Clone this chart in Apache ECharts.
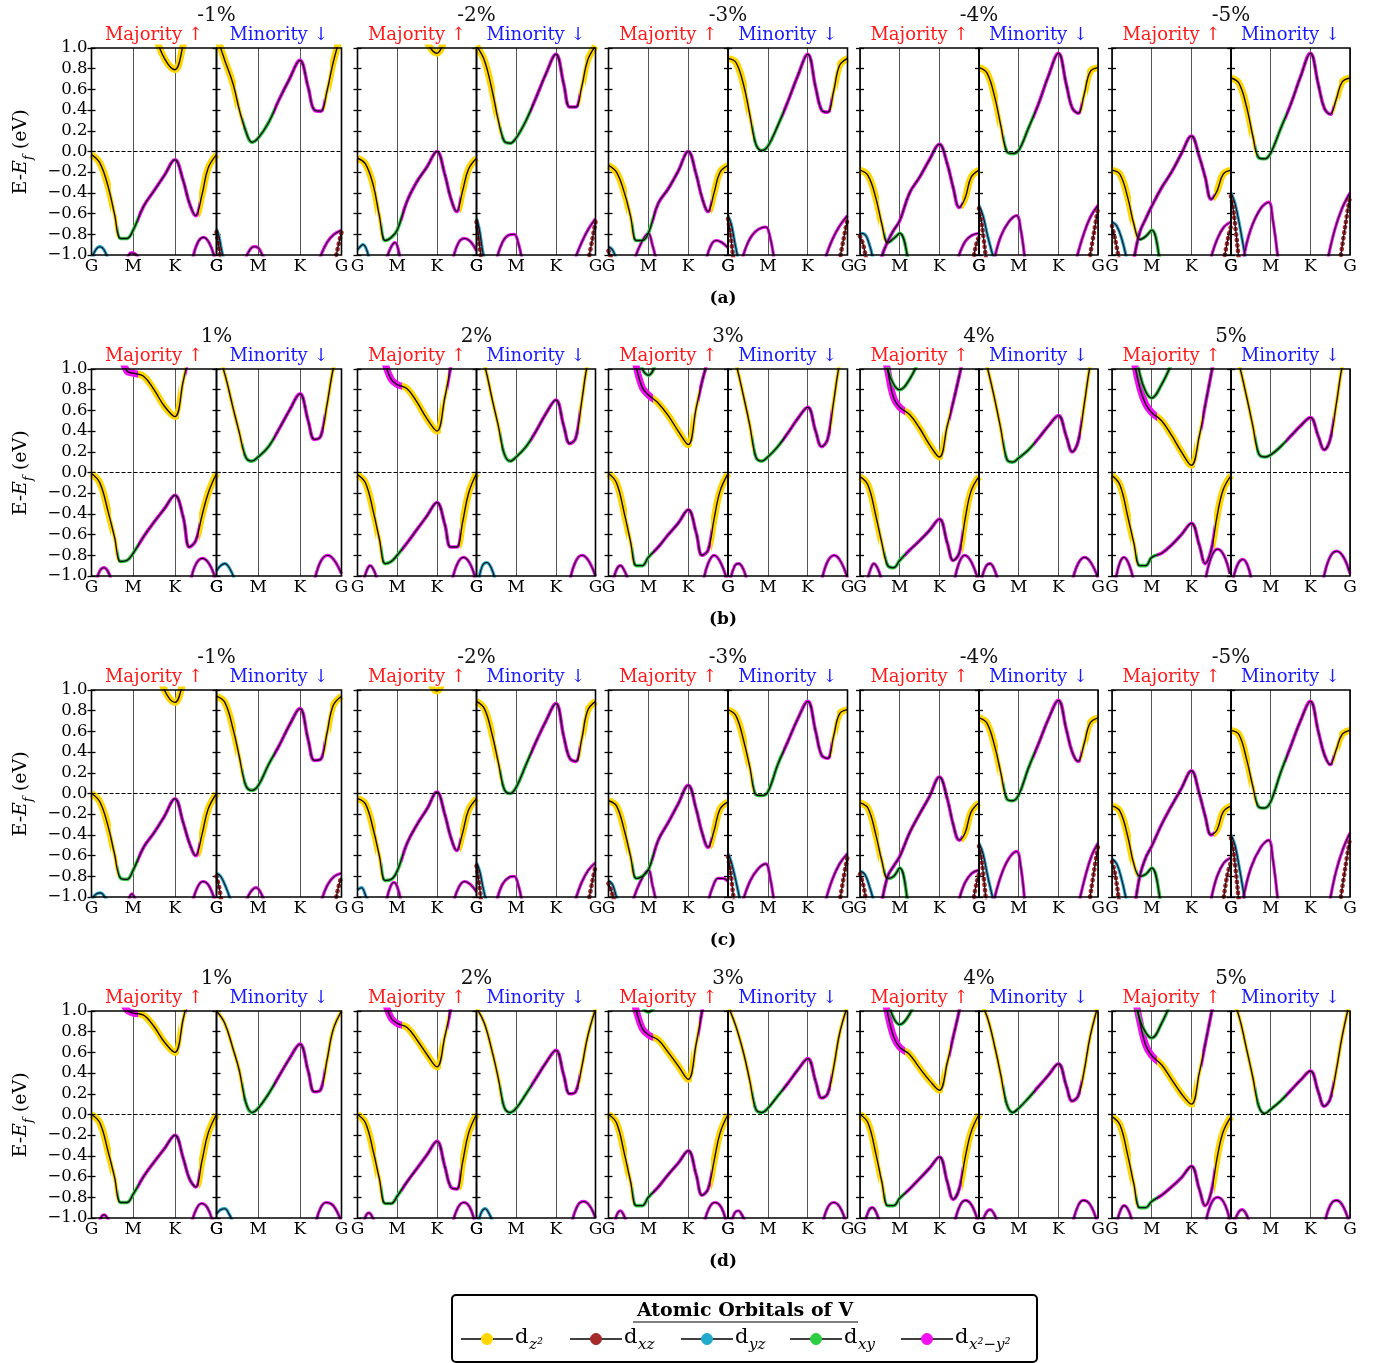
<!DOCTYPE html>
<html>
<head>
<meta charset="utf-8">
<script src="https://cdn.jsdelivr.net/npm/echarts@6/dist/echarts.min.js"></script>
<style>
  html, body { margin: 0; padding: 0; background: #fff; }
  #main { width: 1379px; height: 1363px; }
</style>
</head>
<body>
<div id="main"></div>
<script>
// k-path G-M-K-G, each segment drawn with equal length (G=0, M=1, K=2, G=3)
var kpts = [0, 0.2, 0.4, 0.55, 0.7, 0.85, 1, 1.25, 1.5, 1.75, 2, 2.2, 2.35, 2.5, 2.65, 2.8, 3];
var kLabels = ['G', 'M', 'K', 'G'];
var strainNeg = ['-1%', '-2%', '-3%', '-4%', '-5%'];
var strainPos = ['1%', '2%', '3%', '4%', '5%'];
var rowTags = ['(a)', '(b)', '(c)', '(d)'];

// orbital character per k-point (z=dz2, c=dxz, y=dyz, x=dxy, m=dx2-y2; upper case = large weight)
var VB   = 'ZZZzxxxmmmmmmmZZZ';
var VBA  = 'ZZZzxxxxmmmmmmmmm';
var VBB  = 'mmmmmmmmmmmmmmZZZ';
var CBK  = 'ZZZZZZZZZZZZZZZZZ';
var CBT  = 'mmmMMMMZZZZzmmmmm';
var CB2  = 'xxxxxxxxxxxxxxxxx';
var CBD  = 'ZZZzxxxxmmmmmmzZZ';
var CBDT = 'zzzzxxxxmmmmmmzzz';

// ---- row (a): compressive ----
var a1_up = [[VB, [-0.03,-0.11,-0.34,-0.6,-0.84,-0.84,-0.76,-0.53,-0.38,-0.23,-0.08,-0.28,-0.5,-0.62,-0.42,-0.16,-0.03]],
             [CBK, [1.6,1.6,1.6,1.6,1.6,1.6,1.6,1.45,1.15,0.9,0.79,1.03,1.3,1.6,1.6,1.6,1.6]]];
var a1_dn = [[CBD, [1.12,0.88,0.65,0.4,0.2,0.09,0.13,0.28,0.5,0.7,0.88,0.62,0.4,0.39,0.58,0.86,1.15]]];
var a2_up = [[VB, [-0.065,-0.12,-0.33,-0.62,-0.86,-0.83,-0.76,-0.48,-0.29,-0.15,0.0,-0.22,-0.45,-0.58,-0.38,-0.17,-0.065]],
             [CBK, [1.6,1.6,1.6,1.6,1.6,1.6,1.6,1.6,1.4,1.06,0.95,1.1,1.4,1.6,1.6,1.6,1.6]]];
var a2_dn = [[CBD, [1.02,0.88,0.58,0.3,0.1,0.08,0.13,0.3,0.52,0.75,0.94,0.65,0.43,0.43,0.62,0.88,1.02]]];
var a3_up = [[VB, [-0.135,-0.2,-0.4,-0.62,-0.86,-0.86,-0.79,-0.5,-0.36,-0.19,0.0,-0.22,-0.45,-0.58,-0.4,-0.2,-0.135]]];
var a3_dn = [[CBD, [0.9,0.86,0.63,0.35,0.07,0.01,0.05,0.25,0.48,0.73,0.94,0.62,0.4,0.38,0.58,0.83,0.9]]];
var a4_up = [[VBA, [-0.18,-0.23,-0.45,-0.7,-0.88,-0.84,-0.79,-1.12,-1.6,-1.6,-1.6,-1.6,-1.6,-1.6,-1.6,-1.6,-1.6]],
             [VBB, [-1.6,-1.6,-1.4,-1.02,-0.87,-0.76,-0.67,-0.4,-0.25,-0.08,0.07,-0.12,-0.35,-0.54,-0.45,-0.25,-0.18]]];
var a4_dn = [[CBD, [0.81,0.76,0.52,0.25,0.0,-0.02,0.01,0.23,0.46,0.73,0.95,0.65,0.42,0.37,0.55,0.77,0.81]]];
var a5_up = [[VBA, [-0.18,-0.22,-0.45,-0.7,-0.85,-0.82,-0.76,-1.15,-1.6,-1.6,-1.6,-1.6,-1.6,-1.6,-1.6,-1.6,-1.6]],
             [VBB, [-1.6,-1.6,-1.5,-1.05,-0.78,-0.65,-0.53,-0.35,-0.2,-0.02,0.15,-0.05,-0.25,-0.46,-0.38,-0.22,-0.18]]];
var a5_dn = [[CBD, [0.71,0.66,0.42,0.15,-0.06,-0.07,-0.015,0.22,0.45,0.72,0.95,0.65,0.42,0.36,0.5,0.67,0.71]]];

// lower bands: [orbital, [[k, E], ...]]
var a1_upLow = [['y', [[0,-1.04],[0.1,-0.95],[0.2,-0.92],[0.3,-0.95],[0.4,-1.05]]],
                ['m', [[0.85,-1.05],[0.95,-0.98],[1.05,-0.99],[1.15,-1.05]]],
                ['m', [[2.42,-1.05],[2.55,-0.88],[2.69,-0.83],[2.82,-0.88],[2.95,-1.02]]]];
var a1_dnLow = [['y', [[0,-0.75],[0.06,-0.82],[0.12,-0.95],[0.18,-1.05]]],
                ['c', [[0,-0.78],[0.05,-0.9],[0.1,-1.05]]],
                ['m', [[0.68,-1.05],[0.8,-0.95],[0.9,-0.92],[1.0,-0.93],[1.1,-1.0],[1.2,-1.08]]],
                ['m', [[2.48,-1.03],[2.65,-0.88],[2.82,-0.8],[3,-0.76]]],
                ['c', [[2.85,-1.05],[2.93,-0.9],[3,-0.78]]]];
var a2_upLow = [['y', [[0,-0.95],[0.14,-0.9],[0.3,-1.05]]],
                ['m', [[0.72,-1.05],[0.85,-0.92],[0.95,-0.88],[1.03,-0.95],[1.1,-1.1]]],
                ['m', [[2.4,-1.05],[2.55,-0.88],[2.7,-0.84],[2.85,-0.87],[3,-0.96]]]];
var a2_dnLow = [['y', [[0,-0.65],[0.07,-0.75],[0.15,-0.95],[0.2,-1.05]]],
                ['c', [[0,-0.68],[0.06,-0.85],[0.12,-1.05]]],
                ['m', [[0.5,-1.05],[0.65,-0.88],[0.8,-0.81],[0.95,-0.8],[1.05,-0.88],[1.15,-1.05]]],
                ['m', [[2.5,-1.02],[2.65,-0.88],[2.82,-0.75],[3,-0.65]]],
                ['c', [[2.82,-1.05],[2.92,-0.85],[3,-0.68]]]];
var a3_upLow = [['y', [[0,-0.92],[0.1,-0.95],[0.2,-1.05]]],
                ['c', [[0,-0.96],[0.12,-1.08]]],
                ['m', [[0.65,-1.05],[0.8,-0.9],[1,-0.79],[1.1,-0.9],[1.2,-1.05]]],
                ['m', [[2.45,-1.05],[2.58,-0.9],[2.71,-0.86],[2.85,-0.88],[3,-0.93]]]];
var a3_dnLow = [['y', [[0,-0.62],[0.08,-0.7],[0.17,-0.88],[0.25,-1.03]]],
                ['c', [[0,-0.65],[0.06,-0.8],[0.14,-1.05]]],
                ['m', [[0.35,-1.05],[0.5,-0.88],[0.7,-0.77],[0.95,-0.73],[1.05,-0.82],[1.15,-1.02]]],
                ['m', [[2.45,-1.02],[2.62,-0.85],[2.8,-0.72],[3,-0.62]]],
                ['c', [[2.8,-1.05],[2.9,-0.85],[3,-0.65]]]];
var a4_upLow = [['y', [[0,-0.79],[0.12,-0.8],[0.22,-0.88],[0.32,-1.02]]],
                ['c', [[0,-0.82],[0.08,-0.9],[0.16,-1.05]]],
                ['m', [[2.48,-1.02],[2.65,-0.87],[2.82,-0.81],[3,-0.79]]],
                ['c', [[2.85,-1.05],[2.93,-0.9],[3,-0.82]]]];
var a4_dnLow = [['y', [[0,-0.52],[0.1,-0.62],[0.22,-0.82],[0.36,-1.02]]],
                ['c', [[0,-0.55],[0.07,-0.7],[0.18,-1.05]]],
                ['m', [[0.4,-1.02],[0.55,-0.82],[0.75,-0.68],[0.95,-0.62],[1.05,-0.75],[1.15,-1.02]]],
                ['m', [[2.47,-1.02],[2.62,-0.82],[2.8,-0.64],[3,-0.52]]],
                ['c', [[2.78,-1.05],[2.9,-0.78],[3,-0.55]]]];
var a5_upLow = [['y', [[0,-0.68],[0.12,-0.72],[0.25,-0.85],[0.36,-1.02]]],
                ['c', [[0,-0.72],[0.08,-0.85],[0.18,-1.05]]],
                ['m', [[2.5,-1.02],[2.65,-0.85],[2.82,-0.73],[3,-0.68]]],
                ['c', [[2.82,-1.05],[2.92,-0.85],[3,-0.72]]]];
var a5_dnLow = [['y', [[0,-0.4],[0.1,-0.5],[0.22,-0.72],[0.36,-1.02]]],
                ['c', [[0,-0.43],[0.07,-0.6],[0.2,-1.05]]],
                ['m', [[0.32,-1.02],[0.5,-0.75],[0.75,-0.55],[0.95,-0.49],[1.05,-0.65],[1.18,-1.02]]],
                ['m', [[2.45,-1.02],[2.62,-0.75],[2.8,-0.55],[3,-0.4]]],
                ['c', [[2.75,-1.05],[2.88,-0.72],[3,-0.43]]]];

// ---- row (b): tensile ----
var b1_up = [[VB, [-0.01,-0.1,-0.38,-0.62,-0.86,-0.85,-0.78,-0.62,-0.48,-0.35,-0.22,-0.43,-0.72,-0.66,-0.42,-0.2,-0.01]],
             [CBT, [1.6,1.6,1.6,1.4,1.15,0.98,0.96,0.93,0.8,0.64,0.54,0.88,1.15,1.4,1.6,1.6,1.6]]];
var b1_dn = [[CBDT, [1.2,0.95,0.62,0.38,0.15,0.11,0.15,0.25,0.42,0.6,0.76,0.5,0.32,0.35,0.65,1.0,1.3]]];
var b2_up = [[VB, [-0.02,-0.1,-0.38,-0.64,-0.88,-0.86,-0.8,-0.68,-0.55,-0.42,-0.29,-0.5,-0.72,-0.72,-0.48,-0.2,-0.01]],
             [CBT, [1.6,1.6,1.6,1.3,1.05,0.9,0.85,0.81,0.68,0.52,0.4,0.72,1.02,1.3,1.6,1.6,1.6]]];
var b2_dn = [[CBDT, [1.25,1.04,0.7,0.45,0.18,0.11,0.15,0.25,0.4,0.57,0.7,0.45,0.28,0.33,0.68,1.05,1.3]]];
var b3_up = [[VB, [-0.01,-0.1,-0.4,-0.66,-0.9,-0.9,-0.82,-0.72,-0.6,-0.49,-0.36,-0.58,-0.8,-0.75,-0.45,-0.18,-0.01]],
             [CBT, [1.6,1.6,1.6,1.4,1.02,0.82,0.75,0.67,0.55,0.4,0.27,0.62,0.88,1.1,1.4,1.6,1.6]],
             [CB2, [1.6,1.6,1.6,1.5,1.25,1.0,0.94,1.12,1.4,1.6,1.6,1.6,1.6,1.6,1.6,1.6,1.6]]];
var b3_dn = [[CBDT, [1.3,1.05,0.72,0.45,0.15,0.11,0.15,0.25,0.38,0.52,0.63,0.4,0.25,0.32,0.68,1.05,1.35]]];
var b4_up = [[VB, [-0.04,-0.12,-0.42,-0.68,-0.9,-0.92,-0.85,-0.75,-0.66,-0.56,-0.45,-0.68,-0.85,-0.78,-0.45,-0.18,-0.04]],
             [CBT, [1.6,1.6,1.6,1.3,0.98,0.72,0.63,0.56,0.43,0.27,0.15,0.45,0.68,0.93,1.2,1.5,1.6]],
             [CB2, [1.6,1.6,1.6,1.4,1.0,0.85,0.8,0.9,1.1,1.4,1.6,1.6,1.6,1.6,1.6,1.6,1.6]]];
var b4_dn = [[CBDT, [1.3,1.03,0.7,0.42,0.13,0.1,0.14,0.22,0.33,0.45,0.55,0.35,0.2,0.3,0.65,1.03,1.35]]];
var b5_up = [[VB, [-0.03,-0.12,-0.43,-0.68,-0.9,-0.9,-0.82,-0.78,-0.7,-0.6,-0.49,-0.7,-0.88,-0.75,-0.42,-0.17,-0.03]],
             [CBT, [1.6,1.6,1.6,1.1,0.82,0.66,0.58,0.5,0.36,0.2,0.07,0.35,0.65,0.95,1.25,1.5,1.6]],
             [CB2, [1.6,1.6,1.6,1.3,0.95,0.78,0.72,0.85,1.05,1.3,1.6,1.6,1.6,1.6,1.6,1.6,1.6]]];
var b5_dn = [[CBDT, [1.3,1.05,0.72,0.45,0.18,0.15,0.17,0.25,0.35,0.45,0.53,0.35,0.22,0.32,0.65,1.02,1.35]]];

var b1_upLow = [['m', [[0.12,-1.05],[0.2,-0.95],[0.3,-0.92],[0.4,-0.96],[0.48,-1.05]]],
                ['m', [[2.38,-1.05],[2.5,-0.89],[2.66,-0.83],[2.82,-0.88],[2.97,-1.02]]]];
var b1_dnLow = [['y', [[0,-0.95],[0.1,-0.9],[0.2,-0.88],[0.32,-0.93],[0.45,-1.05]]],
                ['m', [[2.35,-1.05],[2.5,-0.86],[2.67,-0.8],[2.83,-0.85],[3,-0.98]]]];
var b2_upLow = [['m', [[0.15,-1.05],[0.24,-0.94],[0.32,-0.9],[0.42,-0.95],[0.5,-1.05]]],
                ['m', [[2.38,-1.05],[2.52,-0.88],[2.67,-0.82],[2.82,-0.87],[2.97,-1.02]]]];
var b2_dnLow = [['y', [[0.05,-1.05],[0.15,-0.9],[0.26,-0.87],[0.37,-0.92],[0.48,-1.05]]],
                ['m', [[2.35,-1.05],[2.5,-0.86],[2.66,-0.8],[2.82,-0.85],[3,-1.0]]]];
var b3_upLow = [['m', [[0.12,-1.05],[0.2,-0.94],[0.3,-0.9],[0.4,-0.95],[0.5,-1.05]]],
                ['m', [[2.38,-1.05],[2.5,-0.88],[2.65,-0.8],[2.8,-0.86],[2.97,-1.03]]]];
var b3_dnLow = [['m', [[0.05,-1.05],[0.17,-0.9],[0.27,-0.88],[0.38,-0.93],[0.48,-1.05]]],
                ['m', [[2.35,-1.05],[2.5,-0.86],[2.67,-0.8],[2.83,-0.86],[3,-1.02]]]];
var b4_upLow = [['m', [[0.18,-1.05],[0.27,-0.93],[0.35,-0.88],[0.45,-0.93],[0.55,-1.05]]],
                ['m', [[2.38,-1.05],[2.5,-0.87],[2.64,-0.8],[2.8,-0.86],[2.97,-1.03]]]];
var b4_dnLow = [['m', [[0.05,-1.05],[0.17,-0.91],[0.28,-0.88],[0.38,-0.93],[0.48,-1.05]]],
                ['m', [[2.35,-1.05],[2.5,-0.88],[2.66,-0.82],[2.82,-0.87],[3,-1.02]]]];
var b5_upLow = [['m', [[0.1,-1.02],[0.2,-0.87],[0.3,-0.82],[0.42,-0.88],[0.55,-1.05]]],
                ['m', [[2.35,-1.05],[2.5,-0.82],[2.66,-0.74],[2.82,-0.8],[2.97,-0.98]]]];
var b5_dnLow = [['m', [[0.05,-1.03],[0.18,-0.88],[0.3,-0.84],[0.42,-0.9],[0.52,-1.05]]],
                ['m', [[2.32,-1.05],[2.48,-0.83],[2.66,-0.76],[2.84,-0.82],[3,-0.98]]]];

// ---- row (c): compressive ----
var c1_up = [[VB, [0.0,-0.08,-0.32,-0.58,-0.82,-0.83,-0.74,-0.52,-0.38,-0.22,-0.05,-0.28,-0.48,-0.6,-0.4,-0.15,0.0]],
             [CBK, [1.6,1.6,1.6,1.6,1.6,1.6,1.6,1.6,1.3,1.0,0.88,1.08,1.35,1.6,1.6,1.6,1.6]]];
var c1_dn = [[CBD, [0.94,0.88,0.62,0.35,0.08,0.03,0.075,0.28,0.46,0.66,0.82,0.52,0.32,0.33,0.58,0.85,0.94]]];
var c2_up = [[VB, [-0.05,-0.1,-0.35,-0.6,-0.84,-0.83,-0.75,-0.48,-0.3,-0.15,0.015,-0.2,-0.42,-0.55,-0.38,-0.16,-0.05]],
             [CBK, [1.6,1.6,1.6,1.6,1.6,1.6,1.6,1.6,1.5,1.15,0.99,1.15,1.5,1.6,1.6,1.6,1.6]]];
var c2_dn = [[CBD, [0.89,0.82,0.56,0.3,0.04,0.0,0.06,0.28,0.5,0.7,0.87,0.55,0.34,0.31,0.52,0.8,0.89]]];
var c3_up = [[VB, [-0.07,-0.12,-0.36,-0.6,-0.82,-0.8,-0.74,-0.45,-0.28,-0.1,0.08,-0.15,-0.38,-0.52,-0.36,-0.15,-0.08]]];
var c3_dn = [[CBD, [0.81,0.75,0.5,0.25,-0.01,-0.02,0.015,0.28,0.5,0.72,0.89,0.6,0.37,0.34,0.55,0.77,0.81]]];
var c4_up = [[VBA, [-0.09,-0.14,-0.4,-0.65,-0.82,-0.8,-0.72,-1.15,-1.6,-1.6,-1.6,-1.6,-1.6,-1.6,-1.6,-1.6,-1.6]],
             [VBB, [-1.6,-1.6,-1.4,-1.05,-0.8,-0.7,-0.61,-0.38,-0.2,-0.03,0.16,-0.05,-0.3,-0.45,-0.38,-0.18,-0.09]]];
var c4_dn = [[CBD, [0.73,0.68,0.45,0.2,-0.05,-0.07,-0.015,0.25,0.48,0.72,0.9,0.62,0.4,0.31,0.48,0.68,0.73]]];
var c5_up = [[VBA, [-0.12,-0.17,-0.42,-0.68,-0.8,-0.78,-0.72,-1.1,-1.6,-1.6,-1.6,-1.6,-1.6,-1.6,-1.6,-1.6,-1.6]],
             [VBB, [-1.6,-1.6,-1.5,-1.15,-0.8,-0.62,-0.51,-0.3,-0.12,0.05,0.22,0.0,-0.22,-0.4,-0.35,-0.18,-0.12]]];
var c5_dn = [[CBD, [0.61,0.57,0.32,0.07,-0.13,-0.14,-0.08,0.2,0.45,0.7,0.89,0.6,0.38,0.28,0.42,0.57,0.61]]];

var c1_upLow = [['y', [[0,-1.02],[0.12,-0.97],[0.22,-0.96],[0.32,-1.0],[0.4,-1.05]]],
                ['m', [[0.88,-1.04],[0.97,-0.97],[1.06,-1.04]]],
                ['m', [[2.42,-1.05],[2.55,-0.9],[2.67,-0.85],[2.8,-0.88],[2.95,-1.02]]]];
var c1_dnLow = [['y', [[0,-0.77],[0.1,-0.8],[0.22,-0.9],[0.34,-1.03]]],
                ['c', [[0,-0.8],[0.06,-0.9],[0.12,-1.05]]],
                ['m', [[0.7,-1.05],[0.82,-0.95],[0.95,-0.91],[1.05,-0.95],[1.15,-1.05]]],
                ['m', [[2.53,-1.02],[2.67,-0.88],[2.83,-0.8],[3,-0.77]]],
                ['c', [[2.85,-1.05],[2.93,-0.9],[3,-0.8]]]];
var c2_upLow = [['y', [[0,-0.93],[0.1,-0.91],[0.22,-1.0],[0.3,-1.05]]],
                ['m', [[0.72,-1.05],[0.83,-0.9],[0.92,-0.86],[1.0,-0.9],[1.1,-1.05]]],
                ['m', [[2.42,-1.05],[2.56,-0.9],[2.7,-0.85],[2.85,-0.88],[3,-0.95]]]];
var c2_dnLow = [['y', [[0,-0.67],[0.08,-0.75],[0.17,-0.92],[0.24,-1.03]]],
                ['c', [[0,-0.7],[0.06,-0.85],[0.12,-1.05]]],
                ['m', [[0.5,-1.05],[0.65,-0.88],[0.82,-0.81],[0.95,-0.8],[1.05,-0.88],[1.15,-1.05]]],
                ['m', [[2.5,-1.02],[2.65,-0.86],[2.82,-0.74],[3,-0.67]]],
                ['c', [[2.82,-1.05],[2.92,-0.85],[3,-0.7]]]];
var c3_upLow = [['y', [[0,-0.84],[0.1,-0.88],[0.2,-1.0],[0.28,-1.08]]],
                ['c', [[0,-0.87],[0.08,-0.95],[0.15,-1.05]]],
                ['m', [[0.6,-1.05],[0.8,-0.85],[1,-0.74],[1.1,-0.88],[1.2,-1.05]]],
                ['m', [[2.5,-1.05],[2.62,-0.9],[2.75,-0.82],[2.88,-0.82],[3,-0.85]]]];
var c3_dnLow = [['y', [[0,-0.58],[0.08,-0.66],[0.2,-0.85],[0.3,-1.03]]],
                ['c', [[0,-0.61],[0.06,-0.75],[0.15,-1.05]]],
                ['m', [[0.38,-1.03],[0.55,-0.85],[0.75,-0.73],[0.95,-0.68],[1.05,-0.8],[1.15,-1.03]]],
                ['m', [[2.46,-1.02],[2.62,-0.83],[2.8,-0.68],[3,-0.58]]],
                ['c', [[2.8,-1.05],[2.9,-0.82],[3,-0.61]]]];
var c4_upLow = [['y', [[0,-0.75],[0.12,-0.78],[0.24,-0.9],[0.34,-1.03]]],
                ['c', [[0,-0.78],[0.08,-0.88],[0.16,-1.05]]],
                ['m', [[2.5,-1.02],[2.65,-0.86],[2.82,-0.77],[3,-0.74]]],
                ['c', [[2.85,-1.05],[2.93,-0.88],[3,-0.78]]]];
var c4_dnLow = [['y', [[0,-0.48],[0.1,-0.58],[0.22,-0.8],[0.36,-1.03]]],
                ['c', [[0,-0.51],[0.07,-0.65],[0.18,-1.05]]],
                ['m', [[0.38,-1.03],[0.55,-0.8],[0.75,-0.63],[0.95,-0.56],[1.05,-0.7],[1.15,-1.03]]],
                ['m', [[2.54,-1.02],[2.68,-0.8],[2.84,-0.6],[3,-0.48]]],
                ['c', [[2.78,-1.05],[2.9,-0.75],[3,-0.51]]]];
var c5_upLow = [['y', [[0,-0.63],[0.12,-0.68],[0.25,-0.84],[0.36,-1.03]]],
                ['c', [[0,-0.66],[0.08,-0.78],[0.18,-1.05]]],
                ['m', [[2.5,-1.02],[2.65,-0.8],[2.82,-0.67],[3,-0.62]]],
                ['c', [[2.8,-1.05],[2.9,-0.8],[3,-0.66]]]];
var c5_dnLow = [['y', [[0,-0.4],[0.1,-0.5],[0.22,-0.74],[0.35,-1.03]]],
                ['c', [[0,-0.43],[0.07,-0.58],[0.2,-1.05]]],
                ['m', [[0.3,-1.03],[0.5,-0.72],[0.75,-0.52],[0.95,-0.45],[1.05,-0.62],[1.18,-1.03]]],
                ['m', [[2.5,-1.02],[2.65,-0.75],[2.82,-0.54],[3,-0.38]]],
                ['c', [[2.75,-1.05],[2.88,-0.72],[3,-0.43]]]];

// ---- row (d): tensile ----
var d1_up = [[VB, [0.0,-0.08,-0.36,-0.6,-0.85,-0.85,-0.77,-0.6,-0.46,-0.33,-0.2,-0.42,-0.62,-0.7,-0.45,-0.18,0.0]],
             [CBT, [1.6,1.6,1.6,1.4,1.15,1.01,0.98,0.96,0.85,0.7,0.6,0.92,1.2,1.5,1.6,1.6,1.6]]];
var d1_dn = [[CBDT, [1.0,0.88,0.63,0.42,0.12,0.02,0.06,0.2,0.37,0.54,0.68,0.42,0.22,0.24,0.52,0.82,1.0]]];
var d2_up = [[VB, [0.0,-0.08,-0.36,-0.62,-0.86,-0.86,-0.79,-0.65,-0.52,-0.39,-0.26,-0.5,-0.7,-0.72,-0.46,-0.18,0.0]],
             [CBT, [1.6,1.6,1.6,1.3,1.08,0.93,0.88,0.84,0.72,0.58,0.46,0.75,1.02,1.3,1.6,1.6,1.6]]];
var d2_dn = [[CBDT, [1.03,0.88,0.6,0.35,0.07,0.02,0.06,0.2,0.35,0.5,0.62,0.38,0.2,0.22,0.45,0.75,1.02]]];
var d3_up = [[VB, [0.0,-0.08,-0.38,-0.64,-0.88,-0.88,-0.8,-0.7,-0.58,-0.47,-0.35,-0.58,-0.78,-0.72,-0.45,-0.18,0.0]],
             [CBT, [1.6,1.6,1.6,1.25,1.0,0.83,0.77,0.72,0.6,0.47,0.34,0.68,1.0,1.3,1.6,1.6,1.6]],
             [CB2, [1.6,1.6,1.6,1.6,1.3,1.05,0.99,1.1,1.4,1.6,1.6,1.6,1.6,1.6,1.6,1.6,1.6]]];
var d3_dn = [[CBDT, [1.05,0.85,0.58,0.32,0.05,0.02,0.06,0.18,0.3,0.43,0.54,0.32,0.16,0.2,0.45,0.78,1.05]]];
var d4_up = [[VB, [0.0,-0.08,-0.38,-0.65,-0.88,-0.88,-0.81,-0.72,-0.62,-0.52,-0.41,-0.65,-0.82,-0.72,-0.42,-0.17,0.0]],
             [CBT, [1.6,1.6,1.6,1.3,0.97,0.75,0.65,0.58,0.45,0.33,0.235,0.5,0.75,1.0,1.3,1.6,1.6]],
             [CB2, [1.6,1.6,1.6,1.4,1.1,0.93,0.87,0.97,1.2,1.5,1.6,1.6,1.6,1.6,1.6,1.6,1.6]]];
var d4_dn = [[CBDT, [1.1,0.95,0.65,0.38,0.1,0.02,0.06,0.16,0.27,0.38,0.49,0.28,0.13,0.18,0.42,0.75,1.05]]];
var d5_up = [[VB, [-0.02,-0.1,-0.4,-0.67,-0.9,-0.9,-0.84,-0.78,-0.7,-0.61,-0.5,-0.72,-0.88,-0.75,-0.42,-0.17,-0.02]],
             [CBT, [1.6,1.6,1.6,1.2,0.9,0.67,0.57,0.48,0.34,0.2,0.1,0.4,0.68,0.97,1.25,1.55,1.6]],
             [CB2, [1.6,1.6,1.6,1.2,0.92,0.79,0.74,0.88,1.1,1.4,1.6,1.6,1.6,1.6,1.6,1.6,1.6]]];
var d5_dn = [[CBDT, [1.15,0.95,0.62,0.36,0.08,0.01,0.05,0.13,0.23,0.33,0.42,0.22,0.08,0.15,0.42,0.75,1.1]]];

var d1_upLow = [['m', [[0.18,-1.05],[0.25,-0.98],[0.31,-0.97],[0.38,-1.0],[0.45,-1.05]]],
                ['m', [[2.4,-1.05],[2.52,-0.91],[2.64,-0.86],[2.78,-0.9],[2.92,-1.05]]]];
var d1_dnLow = [['y', [[0,-0.96],[0.1,-0.92],[0.2,-0.91],[0.3,-0.96],[0.4,-1.05]]],
                ['m', [[2.38,-1.05],[2.5,-0.9],[2.63,-0.85],[2.8,-0.88],[2.98,-1.02]]]];
var d2_upLow = [['m', [[0.15,-1.05],[0.22,-0.97],[0.29,-0.95],[0.36,-0.98],[0.44,-1.05]]],
                ['m', [[2.4,-1.05],[2.53,-0.9],[2.68,-0.85],[2.82,-0.89],[2.95,-1.03]]]];
var d2_dnLow = [['y', [[0.04,-1.05],[0.13,-0.94],[0.22,-0.91],[0.32,-0.96],[0.42,-1.05]]],
                ['m', [[2.4,-1.05],[2.55,-0.88],[2.7,-0.84],[2.85,-0.88],[3,-1.0]]]];
var d3_upLow = [['m', [[0.15,-1.05],[0.22,-0.96],[0.3,-0.93],[0.38,-0.97],[0.46,-1.05]]],
                ['m', [[2.4,-1.05],[2.53,-0.9],[2.67,-0.85],[2.82,-0.89],[2.95,-1.03]]]];
var d3_dnLow = [['m', [[0.08,-1.05],[0.17,-0.95],[0.26,-0.93],[0.35,-0.97],[0.44,-1.05]]],
                ['m', [[2.38,-1.05],[2.5,-0.9],[2.65,-0.85],[2.8,-0.89],[2.95,-1.03]]]];
var d4_upLow = [['m', [[0.12,-1.05],[0.22,-0.93],[0.31,-0.9],[0.4,-0.94],[0.5,-1.05]]],
                ['m', [[2.38,-1.05],[2.52,-0.88],[2.66,-0.83],[2.82,-0.88],[2.97,-1.03]]]];
var d4_dnLow = [['m', [[0.08,-1.05],[0.18,-0.95],[0.28,-0.92],[0.38,-0.96],[0.47,-1.05]]],
                ['m', [[2.36,-1.05],[2.5,-0.88],[2.63,-0.83],[2.8,-0.87],[2.97,-1.03]]]];
var d5_upLow = [['m', [[0.12,-1.05],[0.22,-0.92],[0.31,-0.88],[0.42,-0.93],[0.52,-1.05]]],
                ['m', [[2.36,-1.05],[2.5,-0.86],[2.66,-0.8],[2.82,-0.85],[2.97,-1.02]]]];
var d5_dnLow = [['m', [[0.08,-1.05],[0.18,-0.95],[0.28,-0.92],[0.38,-0.96],[0.47,-1.05]]],
                ['m', [[2.36,-1.05],[2.5,-0.88],[2.65,-0.83],[2.8,-0.87],[2.97,-1.03]]]];

var orbKeys = ['z', 'c', 'y', 'x', 'm'];
var orbSub = ['z\u00b2', 'xz', 'yz', 'xy', 'x\u00b2\u2212y\u00b2'];

// ---- layout & style ----
var ORB = { z: '#ffd700', c: '#a52a2a', y: '#22aacc', x: '#2ecc40', m: '#f010f0' };
var FONT = "'DejaVu Serif', 'Liberation Serif', serif";
var ROW_TOP = [48, 369, 690, 1011];
var PH = 207;
var GROUP_LEFT = [91.5, 357.5, 608.5, 860, 1112];
var PW = [125, 119, 119.5, 119, 119];

var rows = [
  { strains: strainNeg, up: [a1_up, a2_up, a3_up, a4_up, a5_up], dn: [a1_dn, a2_dn, a3_dn, a4_dn, a5_dn],
    upLow: [a1_upLow, a2_upLow, a3_upLow, a4_upLow, a5_upLow], dnLow: [a1_dnLow, a2_dnLow, a3_dnLow, a4_dnLow, a5_dnLow] },
  { strains: strainPos, up: [b1_up, b2_up, b3_up, b4_up, b5_up], dn: [b1_dn, b2_dn, b3_dn, b4_dn, b5_dn],
    upLow: [b1_upLow, b2_upLow, b3_upLow, b4_upLow, b5_upLow], dnLow: [b1_dnLow, b2_dnLow, b3_dnLow, b4_dnLow, b5_dnLow] },
  { strains: strainNeg, up: [c1_up, c2_up, c3_up, c4_up, c5_up], dn: [c1_dn, c2_dn, c3_dn, c4_dn, c5_dn],
    upLow: [c1_upLow, c2_upLow, c3_upLow, c4_upLow, c5_upLow], dnLow: [c1_dnLow, c2_dnLow, c3_dnLow, c4_dnLow, c5_dnLow] },
  { strains: strainPos, up: [d1_up, d2_up, d3_up, d4_up, d5_up], dn: [d1_dn, d2_dn, d3_dn, d4_dn, d5_dn],
    upLow: [d1_upLow, d2_upLow, d3_upLow, d4_upLow, d5_upLow], dnLow: [d1_dnLow, d2_dnLow, d3_dnLow, d4_dnLow, d5_dnLow] }
];

function rgba(hex, a) {
  return 'rgba(' + parseInt(hex.slice(1, 3), 16) + ',' + parseInt(hex.slice(3, 5), 16) + ',' +
         parseInt(hex.slice(5, 7), 16) + ',' + a + ')';
}
// horizontal gradient following the orbital character string (piecewise constant)
function haloGrad(pattern, strongOnly, x0, x1) {
  var stops = [], n = pattern.length;
  for (var i = 0; i < n; i++) {
    var ch = pattern.charAt(i), lo = ch.toLowerCase();
    var col = rgba(ORB[lo], (strongOnly && ch === lo) ? 0 : 1);
    var a = i === 0 ? 0 : (kpts[i - 1] + kpts[i]) / 6;
    var b = i === n - 1 ? 1 : (kpts[i] + kpts[i + 1]) / 6;
    stops.push({ offset: a, color: col }, { offset: b, color: col });
  }
  return new echarts.graphic.LinearGradient(x0, 0, x1, 0, stops, true);
}
function tickFmt(v) {
  if (Math.abs(v) < 1e-9) return '0.0';
  return v.toFixed(1).replace('-', '\u2212');
}

var grids = [], xAxes = [], yAxes = [], series = [], graphics = [];

rows.forEach(function (row, r) {
  var top = ROW_TOP[r];
  for (var g = 0; g < 5; g++) {
    for (var s = 0; s < 2; s++) {
      var left = GROUP_LEFT[g] + s * PW[g], w = PW[g];
      var gi = grids.length;
      grids.push({ left: left, top: top, width: w, height: PH, show: false });
      xAxes.push({
        gridIndex: gi, type: 'value', min: 0, max: 3, interval: 1,
        axisLine: { show: false }, axisTick: { show: false },
        axisLabel: { show: true, showMinLabel: true, showMaxLabel: true, margin: 3,
                     formatter: function (v) { return kLabels[Math.round(v)]; },
                     fontFamily: FONT, fontSize: 17, color: '#000' },
        splitLine: { show: true, lineStyle: { color: '#555', width: 1 } }
      });
      var first = (g === 0 && s === 0);
      yAxes.push({
        gridIndex: gi, type: 'value', min: -1, max: 1, interval: 0.2, position: 'left',
        axisLine: { show: false },
        axisTick: { show: true, length: 4, lineStyle: { color: '#000', width: 1.3 } },
        axisLabel: { show: first, formatter: tickFmt, margin: 4, fontFamily: FONT, fontSize: 16.5, color: '#000' },
        splitLine: { show: false }
      });
      yAxes.push({
        gridIndex: gi, type: 'value', min: -1, max: 1, interval: 0.2, position: 'left', offset: 0,
        axisLine: { show: false },
        axisTick: { show: true, inside: true, length: 4, lineStyle: { color: '#000', width: 1.3 } },
        axisLabel: { show: false }, splitLine: { show: false }
      });
      var yi = gi * 2;
      var bands = s === 0 ? row.up[g] : row.dn[g];
      var lows = s === 0 ? row.upLow[g] : row.dnLow[g];

      lows.forEach(function (lb) {
        var pts = lb[1], brown = lb[0] === 'c';
        series.push({ type: 'line', xAxisIndex: gi, yAxisIndex: yi, data: pts, smooth: 0.4, symbol: 'none',
                      silent: true, z: 2,
                      lineStyle: brown ? { width: 4.5, color: ORB.c, type: [0.5, 5], cap: 'round' }
                                       : { width: 3.2, color: ORB[lb[0]] } });
        series.push({ type: 'line', xAxisIndex: gi, yAxisIndex: yi, data: pts, smooth: 0.4, symbol: 'none',
                      silent: true, z: 3, lineStyle: { width: 1.1, color: '#1a0a1a' } });
      });
      bands.forEach(function (b) {
        var pts = kpts.map(function (k, i) { return [k, b[1][i]]; });
        series.push({ type: 'line', xAxisIndex: gi, yAxisIndex: yi, data: pts, smooth: 0.4, symbol: 'none',
                      silent: true, z: 1, lineStyle: { width: 7, color: haloGrad(b[0], true, left, left + w) } });
        series.push({ type: 'line', xAxisIndex: gi, yAxisIndex: yi, data: pts, smooth: 0.4, symbol: 'none',
                      silent: true, z: 2, lineStyle: { width: 3.6, color: haloGrad(b[0], false, left, left + w) } });
        series.push({ type: 'line', xAxisIndex: gi, yAxisIndex: yi, data: pts, smooth: 0.4, symbol: 'none',
                      silent: true, z: 3, lineStyle: { width: 1.4, color: '#1a0a1a' } });
      });
      // Fermi level
      series.push({ type: 'line', xAxisIndex: gi, yAxisIndex: yi, data: [[0, 0], [3, 0]], symbol: 'none', silent: true,
                    z: 4, lineStyle: { width: 1, color: '#000', type: [4, 2] } });

      graphics.push({ type: 'rect', z: 100, silent: true,
                      shape: { x: left, y: top, width: w, height: PH },
                      style: { fill: 'none', stroke: '#000', lineWidth: 1.6 } });
      graphics.push({ type: 'text', z: 100, silent: true, x: left + w / 2, y: top - 13,
                      style: { text: s === 0 ? 'Majority \u2191' : 'Minority \u2193', fill: s === 0 ? '#ff1a1a' : '#1a1aff',
                               fontFamily: FONT, fontSize: 18, align: 'center', verticalAlign: 'middle' } });
    }
    graphics.push({ type: 'text', z: 100, silent: true, x: GROUP_LEFT[g] + PW[g], y: top - 32,
                    style: { text: row.strains[g], fill: '#111', fontFamily: FONT, fontSize: 20,
                             align: 'center', verticalAlign: 'middle' } });
  }
  graphics.push({ type: 'text', z: 100, silent: true, x: 723, y: top + 251,
                  style: { text: rowTags[r], fill: '#000', fontFamily: FONT, fontWeight: 'bold',
                           fontSize: 17, align: 'center', verticalAlign: 'middle' } });
  graphics.push({ type: 'text', z: 100, silent: true, x: 21, y: top + 104, rotation: Math.PI / 2,
                  style: { text: '{n|E-}{i|E}{s|f}{n| (eV)}', align: 'center', verticalAlign: 'middle',
                           rich: { n: { fontFamily: FONT, fontSize: 19, lineHeight: 28, fill: '#000' },
                                   i: { fontFamily: FONT, fontSize: 19, fontStyle: 'italic', lineHeight: 28, fill: '#000' },
                                   s: { fontFamily: FONT, fontSize: 13, fontStyle: 'italic', lineHeight: 28,
                                        verticalAlign: 'bottom', fill: '#000' } } } });
});

// legend box
graphics.push({ type: 'rect', z: 100, silent: true, shape: { x: 452, y: 1295, width: 585, height: 67, r: 4 },
                style: { fill: '#fff', stroke: '#000', lineWidth: 2 } });
graphics.push({ type: 'text', z: 101, silent: true, x: 745, y: 1311,
                style: { text: 'Atomic Orbitals of V', fill: '#000', fontFamily: FONT,
                         fontWeight: 'bold', fontSize: 19, align: 'center', verticalAlign: 'middle' } });
graphics.push({ type: 'line', z: 101, silent: true, shape: { x1: 633, y1: 1322, x2: 858, y2: 1322 },
                style: { stroke: '#000', lineWidth: 1.2 } });
var legX = [461, 570, 681, 790, 901];
orbKeys.forEach(function (k, i) {
  var x = legX[i];
  graphics.push({ type: 'line', z: 101, silent: true, shape: { x1: x, y1: 1339, x2: x + 52, y2: 1339 },
                  style: { stroke: '#000', lineWidth: 1.5 } });
  graphics.push({ type: 'circle', z: 102, silent: true, shape: { cx: x + 26, cy: 1339, r: 5.5 },
                  style: { fill: ORB[k], stroke: ORB[k] } });
  graphics.push({ type: 'text', z: 101, silent: true, x: x + 54, y: 1338,
                  style: { text: 'd', fill: '#000', fontFamily: FONT, fontSize: 21, align: 'left', verticalAlign: 'middle' } });
  graphics.push({ type: 'text', z: 101, silent: true, x: x + 68, y: 1345,
                  style: { text: orbSub[i], fill: '#000', fontFamily: FONT, fontStyle: 'italic', fontSize: 15,
                           align: 'left', verticalAlign: 'middle' } });
});

var chart = echarts.init(document.getElementById('main'), null, { renderer: 'canvas' });
chart.setOption({
  backgroundColor: '#fff',
  animation: false,
  grid: grids,
  xAxis: xAxes,
  yAxis: yAxes,
  series: series,
  graphic: { elements: graphics }
});
</script>
</body>
</html>
